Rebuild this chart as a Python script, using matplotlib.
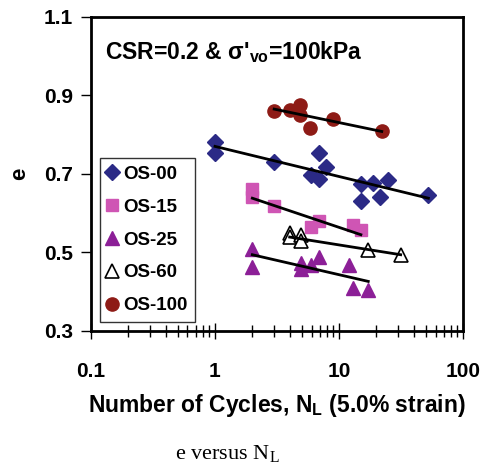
import numpy as np
import matplotlib
matplotlib.use("Agg")
import matplotlib.pyplot as plt
from matplotlib.ticker import LogLocator, FixedLocator, NullFormatter

plt.rcParams['font.family'] = ['Liberation Sans', 'DejaVu Sans']
plt.rcParams['mathtext.default'] = 'regular'

# data (N = cycles, e = void ratio)
os00_n = [1.0, 1.0, 3.0, 6.9, 7.9, 5.9, 6.9, 15.0, 15.0, 18.9, 21.2, 25.0, 52.5]
os00_e = [0.782, 0.753, 0.729, 0.754, 0.717, 0.697, 0.687, 0.674, 0.631, 0.676, 0.642, 0.685, 0.646]
os15_n = [2.0, 2.0, 3.0, 6.9, 5.9, 12.9, 15.0]
os15_e = [0.662, 0.641, 0.619, 0.581, 0.564, 0.570, 0.557]
os25_n = [2.0, 2.0, 4.9, 4.9, 5.9, 6.9, 12.1, 13.0, 17.2]
os25_e = [0.508, 0.464, 0.472, 0.458, 0.468, 0.488, 0.468, 0.409, 0.403]
os60_n = [4.0, 4.0, 4.9, 4.9, 17.2, 31.4]
os60_e = [0.550, 0.540, 0.545, 0.530, 0.505, 0.494]
os100_n = [3.0, 4.0, 4.8, 4.8, 5.8, 9.0, 22.1]
os100_e = [0.859, 0.863, 0.876, 0.850, 0.816, 0.839, 0.810]

# trend lines (end points)
os00_fit_n, os00_fit_e = [1.0, 52.5], [0.770, 0.638]
os15_fit_n, os15_fit_e = [2.0, 15.0], [0.638, 0.545]
os25_fit_n, os25_fit_e = [2.0, 17.2], [0.494, 0.426]
os60_fit_n, os60_fit_e = [4.0, 31.4], [0.539, 0.494]
os100_fit_n, os100_fit_e = [3.0, 22.1], [0.865, 0.808]

fig = plt.figure(figsize=(4.89, 4.68), dpi=100)
ax = fig.add_axes([0.186, 0.293, 0.761, 0.671])

for fn, fe in [(os00_fit_n, os00_fit_e), (os15_fit_n, os15_fit_e), (os25_fit_n, os25_fit_e),
               (os60_fit_n, os60_fit_e), (os100_fit_n, os100_fit_e)]:
    ax.plot(fn, fe, color='black', lw=2, zorder=3)

ax.plot(os00_n, os00_e, 'D', ms=8.5, color='#2b2a86', ls='none', label='OS-00', zorder=2)
ax.plot(os15_n, os15_e, 's', ms=9, color='#cf55b4', ls='none', label='OS-15', zorder=2)
ax.plot(os25_n, os25_e, '^', ms=10, color='#8c1f97', ls='none', label='OS-25', zorder=2)
ax.plot(os60_n, os60_e, '^', ms=10, mfc='white', mec='black', mew=1.2, ls='none', label='OS-60', zorder=2)
ax.plot(os100_n, os100_e, 'o', ms=9.5, color='#8e1b16', ls='none', label='OS-100', zorder=2)

ax.set_xscale('log')
ax.set_xlim(0.1, 100)
ax.set_ylim(0.3, 1.1)
ax.set_xticks([0.1, 1, 10, 100])
ax.set_xticklabels(['0.1', '1', '10', '100'])
ax.xaxis.set_minor_locator(LogLocator(base=10, subs=np.arange(2, 10)))
ax.xaxis.set_minor_formatter(NullFormatter())
ax.yaxis.set_major_locator(FixedLocator([0.3, 0.5, 0.7, 0.9, 1.1]))
ax.set_yticklabels(['0.3', '0.5', '0.7', '0.9', '1.1'])

ax.tick_params(axis='x', which='major', direction='inout', length=11, width=1,
               labelsize=15, top=False, pad=17)
ax.tick_params(axis='x', which='minor', direction='inout', length=9, width=1, top=False)
ax.tick_params(axis='y', which='major', direction='out', length=7, width=1,
               labelsize=15, right=False, pad=6)
for lab in ax.get_xticklabels() + ax.get_yticklabels():
    lab.set_fontweight('bold')
for sp in ax.spines.values():
    sp.set_linewidth(2)

ax.set_xlabel('Number of Cycles, N$_L$ (5.0% strain)', fontsize=16.5, fontweight='bold', labelpad=8)
ax.set_ylabel('e', fontsize=16, fontweight='bold', labelpad=10)

ax.text(0.038, 0.889, "CSR=0.2 & σ'$_{vo}$=100kPa", transform=ax.transAxes,
        fontsize=16.5, fontweight='bold', va='center', ha='left')

leg = ax.legend(loc='lower left', bbox_to_anchor=(0.024, 0.029), borderaxespad=0,
                prop={'weight': 'bold', 'size': 13.5},
                frameon=True, fancybox=False, edgecolor='black', handletextpad=0.33,
                handlelength=0.5, borderpad=0.4, labelspacing=0.84, numpoints=1)
leg.get_frame().set_linewidth(1)

fig.text(0.464, 0.032, 'e versus N$_L$', family='Liberation Serif', fontsize=16,
         ha='center', va='center')

fig.savefig('out.png', dpi=100)
